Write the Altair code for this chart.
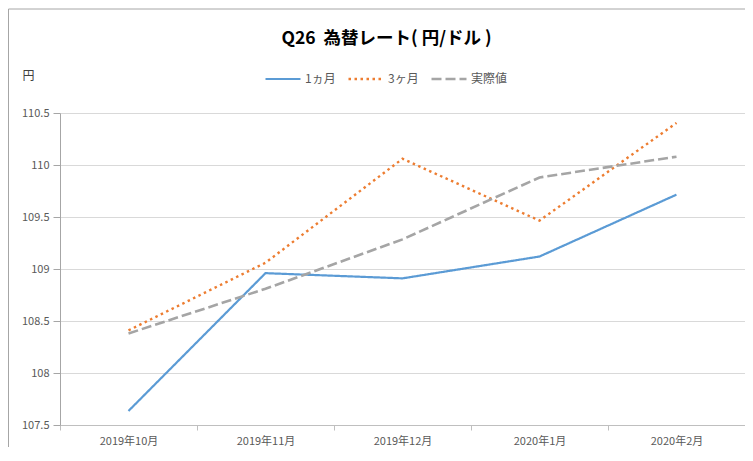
import altair as alt
import pandas as pd

months = ["2019年10月", "2019年11月", "2019年12月", "2020年1月", "2020年2月"]
series_names = ["1ヵ月", "3ヶ月", "実際値"]
one_month = [107.635, 108.96, 108.91, 109.12, 109.715]
three_month = [108.41, 109.06, 110.06, 109.465, 110.405]
actual = [108.38, 108.81, 109.285, 109.88, 110.08]
y_ticks = [107.5, 108, 108.5, 109, 109.5, 110, 110.5]

rows = []
for name, vals in zip(series_names, [one_month, three_month, actual]):
    for m, v in zip(months, vals):
        rows.append({"month": m, "series": name, "value": v})
df = pd.DataFrame(rows)

FONT = "Noto Sans CJK JP"
colors = ["#5B9BD5", "#ED7D31", "#A5A5A5"]
dashes = [[1, 0], [2.5, 3.5], [10, 4]]
widths = [2.2, 2.6, 3.6]

lines = alt.Chart(df).mark_line().encode(
    x=alt.X("month:O", sort=months, title=None,
            scale=alt.Scale(type="band", paddingInner=0, paddingOuter=0),
            axis=alt.Axis(tickBand="extent", labelAngle=0, labelFontSize=11,
                          labelColor="#595959", labelFont=FONT, tickSize=5,
                          labelPadding=5, domainColor="#BFBFBF", tickColor="#BFBFBF",
                          grid=False)),
    y=alt.Y("value:Q", title="円",
            scale=alt.Scale(domain=[107.5, 110.5], nice=False, zero=False),
            axis=alt.Axis(values=y_ticks, format=".1~f", labelFontSize=11,
                          labelColor="#595959", labelFont=FONT, tickSize=7,
                          labelPadding=4, domainColor="#A6A6A6", tickColor="#A6A6A6",
                          gridColor="#D9D9D9", titleAngle=0, titleX=-32, titleY=-38,
                          titleAlign="center", titleBaseline="middle", titleFontSize=12,
                          titleFontWeight="normal", titleColor="#404040", titleFont=FONT)),
    color=alt.Color("series:N", sort=series_names,
                    scale=alt.Scale(domain=series_names, range=colors),
                    legend=alt.Legend(title=None, orient="none", direction="horizontal",
                                      legendX=204, legendY=-53, symbolType="stroke",
                                      symbolSize=1225, symbolStrokeWidth=2.6,
                                      labelFontSize=12, labelColor="#595959",
                                      labelFont=FONT, labelOffset=3, columnPadding=7)),
    strokeDash=alt.StrokeDash("series:N", sort=series_names,
                              scale=alt.Scale(domain=series_names, range=dashes)),
    strokeWidth=alt.StrokeWidth("series:N", sort=series_names,
                                scale=alt.Scale(domain=series_names, range=widths),
                                legend=None),
)

frame_data = alt.Data(values=[{"a": 1}])
frame_left = alt.Chart(frame_data).mark_rule(color="#A6A6A6", strokeWidth=1).encode(
    x=alt.value(-51.5), y=alt.value(-104), y2=alt.value(360))
frame_top = alt.Chart(frame_data).mark_rule(color="#A6A6A6", strokeWidth=1).encode(
    x=alt.value(-51.5), x2=alt.value(700), y=alt.value(-104))

chart = alt.layer(frame_left, frame_top, lines).properties(
    width=685, height=312,
    autosize=alt.AutoSizeParams(type="none"),
    padding={"left": 52, "top": 105, "right": 0, "bottom": 22},
    title=alt.Title("Q26\u00a0\u00a0為替レート(\u00a0円/ドル\u00a0)", fontSize=17.5,
                    fontWeight="bold", font=FONT, color="#000000", anchor="middle",
                    dx=-16, offset=0, dy=39),
).configure_view(stroke=None).configure_legend(
    labelLimit=0
).resolve_legend(strokeDash="shared")

chart.save("out.html", embed_options={"renderer": "svg", "actions": False})
